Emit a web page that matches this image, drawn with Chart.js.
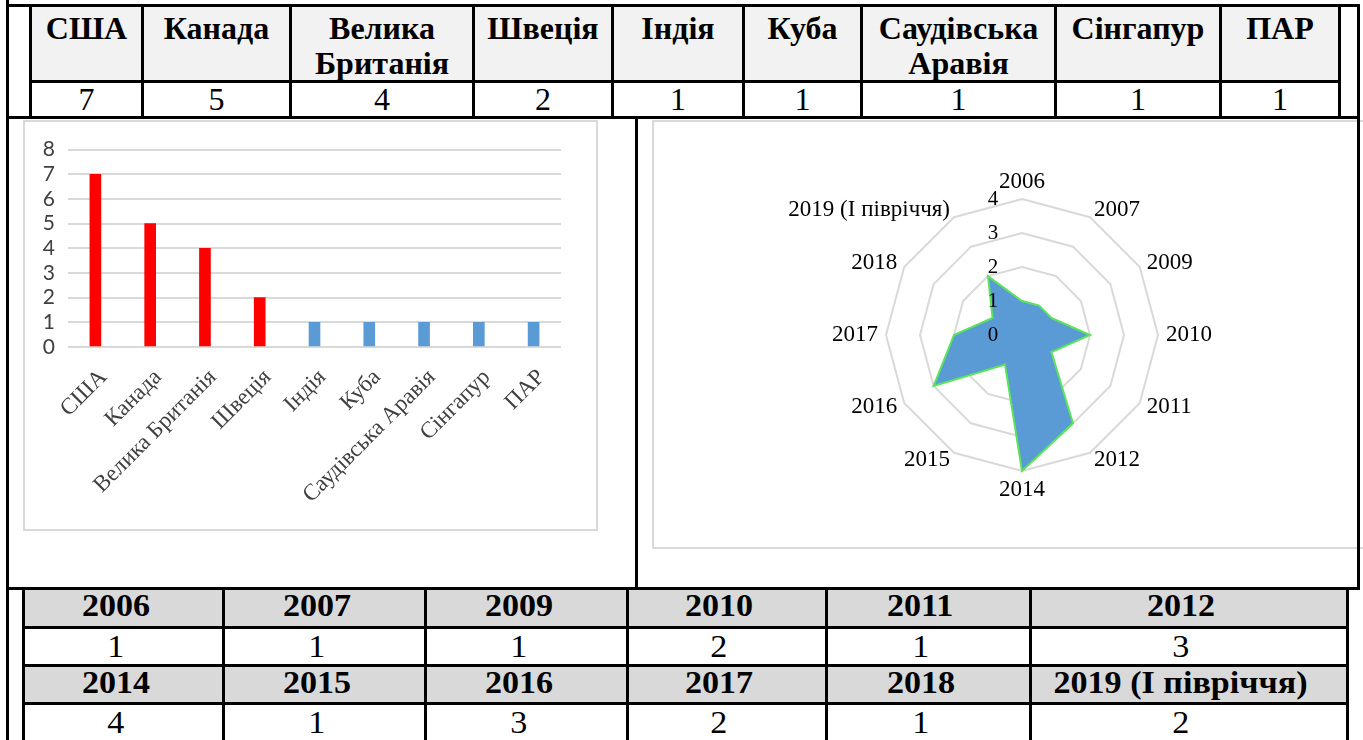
<!DOCTYPE html>
<html>
<head>
<meta charset="utf-8">
<script src="https://cdn.jsdelivr.net/npm/chart.js@4.4.1/dist/chart.umd.min.js"></script>
<style>
body { margin: 0; background: #fff; }
#page { position: relative; width: 1363px; height: 740px; overflow: hidden; font-family: 'Liberation Serif', 'Times New Roman', serif; color: #000; }
.ln { position: absolute; background: #000; }
.cell { position: absolute; box-sizing: border-box; border: 3px solid #000; display: flex; justify-content: center; text-align: center; font-size: 32px; line-height: 35px; }
.hd { font-weight: bold; align-items: flex-start; padding-top: 4px; }
.val { align-items: center; }
.bot { font-size: 31px; padding-right: 16px; }
.bot span { display: inline-block; transform: scaleX(1.1); }
.bot.hd { padding-top: 0; padding-bottom: 5px; }
.box { position: absolute; box-sizing: border-box; border: 2px solid #d9d9d9; background: #fff; }
canvas { position: absolute; }
</style>
</head>
<body>
<div id="page">
  <div class="box" style="left:23px;top:120px;width:575px;height:411px"></div>
  <div class="box" style="left:652px;top:120px;width:720px;height:429px"></div>
  <canvas id="barChart" width="570" height="404" style="left:25px;top:124px"></canvas>
  <canvas id="radarChart" width="560" height="340" style="left:742px;top:165px"></canvas>
</div>
<script>
// кількість по країнах
const countries = ['США', 'Канада', 'Велика Британія', 'Швеція', 'Індія', 'Куба', 'Саудівська Аравія', 'Сінгапур', 'ПАР'];
const countryCounts = [7, 5, 4, 2, 1, 1, 1, 1, 1];
// кількість по роках
const years = ['2006', '2007', '2009', '2010', '2011', '2012', '2014', '2015', '2016', '2017', '2018', '2019 (I півріччя)'];
const yearCounts = [1, 1, 1, 2, 1, 3, 4, 1, 3, 2, 1, 2];
const barTicks = [0, 1, 2, 3, 4, 5, 6, 7, 8];
const radarTicks = [0, 1, 2, 3, 4];

const page = document.getElementById('page');

function addCell(x0, x1, y0, y1, text, cls, bg) {
    let d = document.createElement('div');
    d.className = 'cell ' + cls;
    d.style.left = (x0 - 1) + 'px';
    d.style.top = (y0 - 1) + 'px';
    d.style.width = (x1 - x0 + 3) + 'px';
    d.style.height = (y1 - y0 + 3) + 'px';
    if (bg) d.style.background = bg;
    let s = document.createElement('span');
    s.textContent = text;
    d.appendChild(s);
    page.appendChild(d);
}

function addLine(x, y, w, h) {
    let d = document.createElement('div');
    d.className = 'ln';
    d.style.left = x + 'px';
    d.style.top = y + 'px';
    d.style.width = w + 'px';
    d.style.height = h + 'px';
    page.appendChild(d);
}

// верхня таблиця
const topCols = [30, 142, 290, 473, 612, 743, 861, 1055, 1220, 1339];
for (let i = 0; i < countries.length; i++) {
    addCell(topCols[i], topCols[i + 1], 5, 81, countries[i], 'hd', '#f2f2f2');
    addCell(topCols[i], topCols[i + 1], 81, 117, String(countryCounts[i]), 'val');
}

// нижня таблиця
const botCols = [23, 223, 425, 627, 826, 1030, 1347];
const botRows = [588, 627, 665, 703, 741];
for (let r = 0; r < 2; r++) {
    for (let i = 0; i < 6; i++) {
        let k = r * 6 + i;
        addCell(botCols[i], botCols[i + 1], botRows[r * 2], botRows[r * 2 + 1], years[k], 'bot hd val', '#d9d9d9');
        addCell(botCols[i], botCols[i + 1], botRows[r * 2 + 1], botRows[r * 2 + 2], String(yearCounts[k]), 'bot val');
    }
}

// рамка
addLine(6, 0, 3, 740);
addLine(1357, 4, 3, 585);
addLine(6, 4, 1354, 3);
addLine(6, 116, 1354, 3);
addLine(6, 587, 1354, 3);
addLine(635, 117, 3, 472);

Chart.defaults.animation = false;

const barChart = new Chart(document.getElementById('barChart'), {
    type: 'bar',
    data: {
        labels: countries,
        datasets: [{
            data: countryCounts,
            backgroundColor: countryCounts.map((v, i) => i < 4 ? '#ff0000' : '#5b9bd5'),
            barThickness: 11
        }]
    },
    options: {
        responsive: false,
        layout: { padding: { top: 16, right: 34, left: 0, bottom: 0 } },
        plugins: { legend: { display: false }, tooltip: { enabled: false } },
        scales: {
            x: {
                grid: { display: false, drawTicks: false },
                border: { display: false },
                ticks: {
                    autoSkip: false, minRotation: 45, maxRotation: 45, padding: 17, labelOffset: 8,
                    color: '#404040', font: { family: 'Liberation Serif', size: 23 }
                },
                afterFit: function (scale) { scale.height = 181; }
            },
            y: {
                min: 0, max: 8,
                afterBuildTicks: function (scale) { scale.ticks = barTicks.map(v => ({ value: v })); },
                grid: { color: '#d9d9d9', lineWidth: 2, drawTicks: false },
                border: { display: false },
                ticks: { autoSkip: false, padding: 13, color: '#404040', font: { family: 'Lato', size: 21 } },
                afterFit: function (scale) { scale.width = 43; }
            }
        }
    }
});

// підписи шкали та категорій розміщені як у Excel
const radarLabels = {
    id: 'radarLabels',
    afterDraw(chart) {
        const s = chart.scales.r;
        const c = chart.ctx;
        c.save();
        c.fillStyle = '#000';
        c.font = '21px "Liberation Serif"';
        c.textAlign = 'center';
        c.textBaseline = 'middle';
        radarTicks.forEach(v => {
            c.fillText(String(v), s.xCenter - 29, s.yCenter - s.getDistanceFromCenterForValue(v));
        });
        c.font = '23px "Liberation Serif"';
        years.forEach((lbl, i) => {
            const deg = Math.round(s.getIndexAngle(i) * 180 / Math.PI) % 360;
            let p;
            if (deg === 0) {
                p = s.getPointPosition(i, s.drawingArea + 11);
                c.textAlign = 'center';
                c.textBaseline = 'alphabetic';
            } else if (deg === 180) {
                p = s.getPointPosition(i, s.drawingArea + 7);
                c.textAlign = 'center';
                c.textBaseline = 'top';
            } else {
                p = s.getPointPosition(i, s.drawingArea + 8);
                c.textAlign = deg < 180 ? 'left' : 'right';
                c.textBaseline = 'middle';
            }
            c.fillText(lbl, p.x, p.y);
        });
        c.restore();
    }
};

const radarChart = new Chart(document.getElementById('radarChart'), {
    type: 'radar',
    data: {
        labels: years,
        datasets: [{
            data: yearCounts,
            fill: true,
            backgroundColor: '#5b9bd5',
            borderColor: '#5be35b',
            borderWidth: 2,
            pointRadius: 0,
            tension: 0
        }]
    },
    options: {
        responsive: false,
        layout: { padding: { top: 34, bottom: 34, left: 0, right: 0 } },
        plugins: { legend: { display: false }, tooltip: { enabled: false } },
        scales: {
            r: {
                min: 0, max: 4,
                ticks: { stepSize: 1, display: false },
                grid: { color: '#d9d9d9', lineWidth: 2 },
                angleLines: { display: false },
                pointLabels: { display: false }
            }
        }
    },
    plugins: [radarLabels]
});
</script>
</body>
</html>
